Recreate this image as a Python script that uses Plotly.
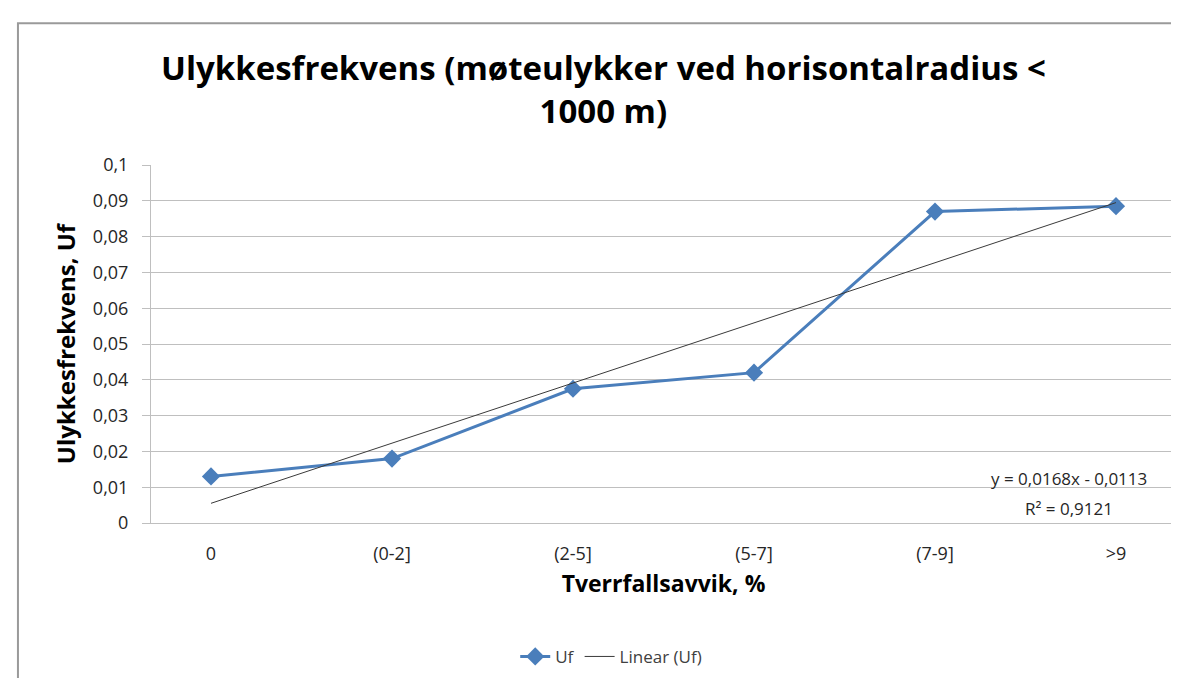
import plotly.graph_objects as go

# data
categories = ['0', '(0-2]', '(2-5]', '(5-7]', '(7-9]', '>9']
uf_values = [0.013, 0.018, 0.0375, 0.042, 0.087, 0.0885]

# trendline as printed on the chart
trend_slope = 0.0168
trend_intercept = -0.0113
trend_values = [trend_slope * (i + 1) + trend_intercept for i in range(len(categories))]

FONT = 'Open Sans'
GRID = '#BFBFBF'
BLUE = '#4A7EBB'

fig = go.Figure()

fig.add_trace(go.Scatter(
    x=categories,
    y=uf_values,
    name='Uf',
    mode='lines+markers',
    line=dict(color=BLUE, width=3),
    marker=dict(symbol='diamond', size=14, color=BLUE)))

fig.add_trace(go.Scatter(
    x=categories,
    y=trend_values,
    name='Linear (Uf)',
    mode='lines',
    line=dict(color='#3A3A3A', width=1)))

fig.update_layout(
    width=1179,
    height=678,
    separators=', ',
    paper_bgcolor='white',
    plot_bgcolor='white',
    margin=dict(l=143, r=11, t=157, b=160),
    font=dict(family=FONT, color='#262626'),
    title=dict(
        text='<b>Ulykkesfrekvens (møteulykker ved horisontalradius <<br>1000 m)</b>',
        x=0.505,
        xanchor='center',
        y=1 - 72 / 678,
        yanchor='middle',
        font=dict(family=FONT, size=33, color='black')),
    showlegend=True,
    legend=dict(
        orientation='h',
        x=0.449,
        xanchor='center',
        y=-0.374,
        yanchor='middle',
        font=dict(family=FONT, size=17, color='#404040')),
    xaxis=dict(
        type='category',
        showgrid=False,
        showline=True,
        linecolor=GRID,
        linewidth=1,
        ticks='',
        ticklabelstandoff=14,
        tickfont=dict(size=18, color='#262626'),
        title=dict(text='<b>Tverrfallsavvik, %</b>',
                   font=dict(size=23, color='black'), standoff=12)),
    yaxis=dict(
        range=[0, 0.1],
        dtick=0.01,
        tickformat='.2~f',
        showgrid=True,
        gridcolor=GRID,
        gridwidth=1,
        zeroline=False,
        showline=True,
        linecolor=GRID,
        ticks='outside',
        ticklen=8,
        tickcolor=GRID,
        ticklabelstandoff=10,
        tickfont=dict(size=18, color='#262626'),
        title=dict(text='<b>Ulykkesfrekvens, Uf</b>',
                   font=dict(size=24, color='black'), standoff=10)),
    annotations=[
        dict(text='y = 0,0168x - 0,0113',
             xref='paper', yref='y', x=0.8956, y=0.01247,
             xanchor='center', yanchor='middle', showarrow=False,
             font=dict(family=FONT, size=17, color='#262626')),
        dict(text='R² = 0,9121',
             xref='paper', yref='y', x=0.8956, y=0.00416,
             xanchor='center', yanchor='middle', showarrow=False,
             font=dict(family=FONT, size=17, color='#262626'))],
    shapes=[dict(
        type='rect', xref='paper', yref='paper',
        x0=-0.1298, x1=1.02, y0=-0.6, y1=1.396,
        line=dict(color='#9A9A9A', width=2))])

fig.write_html('out.html')
